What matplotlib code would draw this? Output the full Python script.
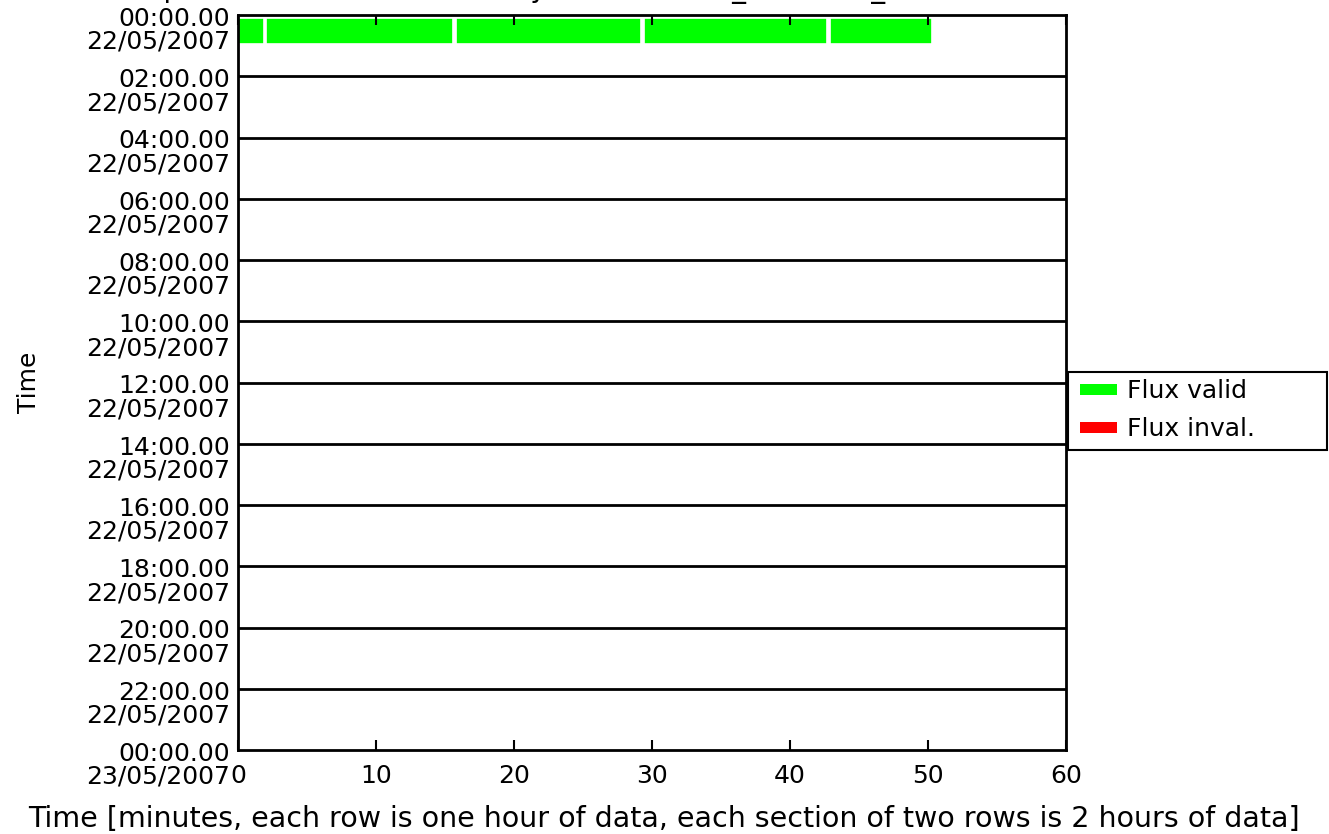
import matplotlib
matplotlib.use("Agg")
import matplotlib.pyplot as plt
from matplotlib.patches import Patch, Rectangle

# valid flux segments in the first row (minutes)
seg_start = [0.0, 2.0, 15.8, 29.4, 42.9]
seg_end = [1.9, 15.6, 29.2, 42.7, 50.3]
seg_row = [0, 0, 0, 0, 0]

hours = list(range(0, 25, 2))
times = [f"{h % 24:02d}:00.00" for h in hours]
dates = ["22/05/2007"] * 12 + ["23/05/2007"]
xticks = [0, 10, 20, 30, 40, 50, 60]

title = "Bar plot of HIFI-MIR flux validity 1342195362_HHHHHH_stabilization detector P2"
xlabel = "Time [minutes, each row is one hour of data, each section of two rows is 2 hours of data]"

fs = 18
fig = plt.figure(figsize=(13.29, 8.34), dpi=100)
ax = fig.add_axes([0.1791, 0.1007, 0.623, 0.8813])

widths = [e - s for s, e in zip(seg_start, seg_end)]
ax.barh([r + 0.52 for r in seg_row], widths, left=seg_start, height=0.86,
        color="#00ff00", edgecolor="white", linewidth=1.2)

for h in hours[1:-1]:
    ax.axhline(h, color="black", linewidth=2)

ax.set_xlim(0, 60)
ax.set_ylim(24, 0)
ax.set_xticks(xticks)
ax.set_xticklabels([str(x) for x in xticks], fontsize=fs)
ax.set_yticks(hours)
ax.set_yticklabels([])
for h, t, d in zip(hours, times, dates):
    ax.annotate(f"{t}\n{d}", xy=(0, h), xycoords=("axes fraction", "data"),
                xytext=(-6, -11), textcoords="offset points",
                ha="right", va="center", fontsize=fs, linespacing=0.95)
ax.tick_params(axis="y", length=0)
ax.tick_params(axis="x", direction="in", top=True, length=7, width=1.5, pad=10)
for sp in ax.spines.values():
    sp.set_linewidth(2)

ax.set_xlabel(xlabel, fontsize=20.5)
ax.xaxis.set_label_coords(0.514, -0.075)
ax.set_ylabel("Time", fontsize=fs)
ax.yaxis.set_label_coords(-0.238, 0.5)

fig.text(0.5, 1.012, title, ha="center", va="center", fontsize=20)

# legend frame drawn separately so it can be as wide as the reference
fig.add_artist(Rectangle((1068 / 1329, 1 - 450 / 834), 259 / 1329, 78 / 834,
                         transform=fig.transFigure, facecolor="white",
                         edgecolor="black", linewidth=1.5))
handles = [Patch(facecolor="#00ff00", label="Flux valid"),
           Patch(facecolor="red", label="Flux inval.")]
fig.legend(handles=handles, loc="upper left",
           bbox_to_anchor=(1072 / 1329, 1 - 372 / 834), fontsize=fs,
           frameon=False, handlelength=1.5, handleheight=0.3,
           borderaxespad=0, borderpad=0.3, labelspacing=0.55,
           handletextpad=0.4)

fig.savefig("out.png", dpi=100)
